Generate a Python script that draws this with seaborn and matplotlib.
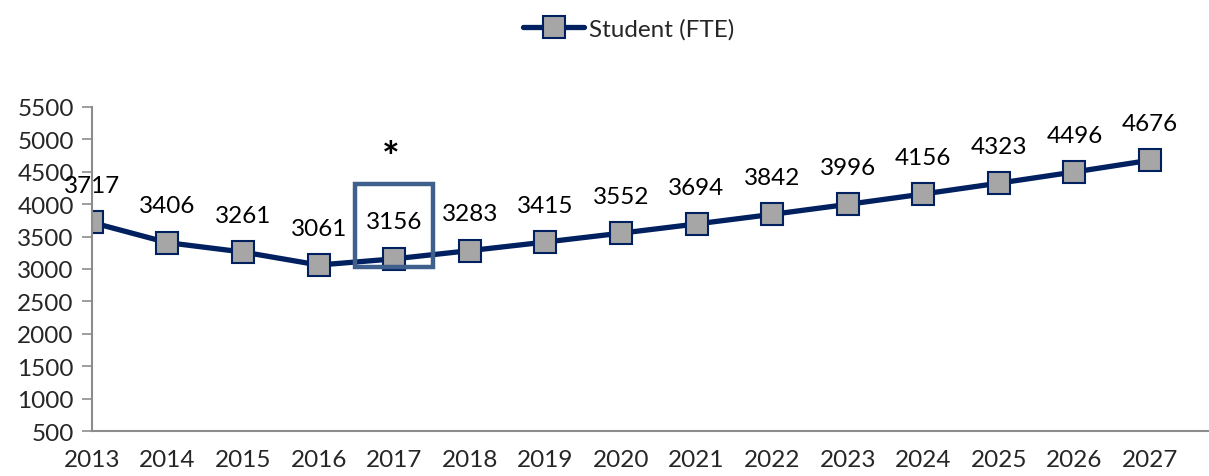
import matplotlib
matplotlib.use("Agg")
import matplotlib.pyplot as plt
import matplotlib.patches as mpatches
import seaborn as sns
import pandas as pd

# data
years = [2013, 2014, 2015, 2016, 2017, 2018, 2019, 2020, 2021, 2022, 2023, 2024, 2025, 2026, 2027]
students = [3717, 3406, 3261, 3061, 3156, 3283, 3415, 3552, 3694, 3842, 3996, 4156, 4323, 4496, 4676]
y_ticks = [500, 1000, 1500, 2000, 2500, 3000, 3500, 4000, 4500, 5000, 5500]
series_name = "Student (FTE)"

df = pd.DataFrame({"Year": years, "FTE": students, "Series": series_name})

sns.set_style("white")
plt.rcParams["font.family"] = ["Lato", "DejaVu Sans"]

navy = "#002060"
fs = 17.5
fig = plt.figure(figsize=(12.09, 4.77), dpi=100)
ax = fig.add_axes([0.076, 0.094, 0.924, 0.68])

sns.lineplot(data=df, x="Year", y="FTE", hue="Series", palette=[navy], marker="s",
             markersize=16, markerfacecolor="#A6A6A6", markeredgecolor=navy,
             markeredgewidth=1.5, linewidth=3.8, ax=ax)

for x, v in zip(years, students):
    ax.annotate(str(v), (x, v), xytext=(0, 19), textcoords="offset points",
                ha="center", va="bottom", fontsize=fs, color="black")

# highlight box around 2017 and the asterisk
box = mpatches.Rectangle((2016.48, 3031), 1.03, 1281, fill=False,
                         edgecolor="#3F5F8C", linewidth=3.2, zorder=5)
ax.add_patch(box)
ax.text(2016.95, 4700, "*", ha="center", va="center", fontsize=30,
        fontweight="bold", color="black")

ax.set_xlim(2013, 2027.78)
ax.set_ylim(500, 5500)
ax.set_yticks(y_ticks)
ax.set_xticks(years)
ax.set_xticklabels([str(y) for y in years])
ax.tick_params(axis="y", length=7, width=1.2, color="#8C8C8C", labelsize=fs, pad=6, direction="out", left=True)
ax.tick_params(axis="x", length=0, labelsize=fs, pad=13)
ax.set_xlabel("")
ax.set_ylabel("")

for side in ["top", "right"]:
    ax.spines[side].set_visible(False)
for side in ["left", "bottom"]:
    ax.spines[side].set_color("#8C8C8C")
    ax.spines[side].set_linewidth(1.5)

handles, labels = ax.get_legend_handles_labels()
ax.legend(handles, labels, loc="upper center", bbox_to_anchor=(0.52, 1.005),
          bbox_transform=fig.transFigure, frameon=False, fontsize=fs,
          handlelength=2.5, handletextpad=0.2)

fig.savefig("out.png", dpi=100)
